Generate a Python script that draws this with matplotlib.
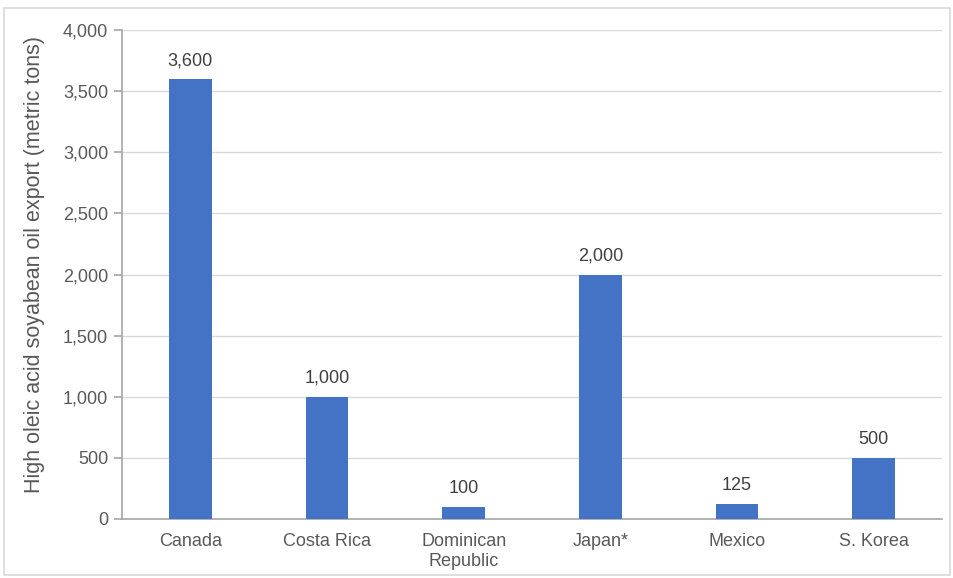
import matplotlib.pyplot as plt
from matplotlib.patches import Rectangle
from matplotlib.ticker import FuncFormatter

plt.rcParams['font.family'] = ['Liberation Sans', 'DejaVu Sans']

countries = ["Canada", "Costa Rica", "Dominican\nRepublic", "Japan*", "Mexico", "S. Korea"]
exports = [3600, 1000, 100, 2000, 125, 500]

bar_color = "#4472C4"
text_color = "#595959"
axis_color = "#A6A6A6"
grid_color = "#D9D9D9"

fig = plt.figure(figsize=(9.54, 5.78), dpi=100)
ax = fig.add_axes([0.1279, 0.1021, 0.8595, 0.8459])

x = range(len(countries))
bars = ax.bar(x, exports, width=0.31, color=bar_color, zorder=3)

for b, v in zip(bars, exports):
    ax.text(b.get_x() + b.get_width() / 2, v + 80, f"{v:,}",
            ha="center", va="bottom", fontsize=13, color="#404040")

ax.set_xlim(-0.5, len(countries) - 0.5)
ax.set_ylim(0, 4000)
ax.set_yticks(range(0, 4001, 500))
ax.yaxis.set_major_formatter(FuncFormatter(lambda v, p: f"{int(v):,}"))
ax.set_xticks(list(x))
ax.set_xticklabels(countries, linespacing=1.25)

ax.grid(axis="y", color=grid_color, linewidth=1, zorder=0)
for side in ["top", "right"]:
    ax.spines[side].set_visible(False)
for side in ["left", "bottom"]:
    ax.spines[side].set_color(axis_color)
    ax.spines[side].set_linewidth(1.2)

ax.tick_params(axis="y", colors=axis_color, labelcolor=text_color, labelsize=13,
               length=6, width=1.2, pad=4)
ax.tick_params(axis="x", length=0, labelcolor=text_color, labelsize=13, pad=10)

ax.set_ylabel("High oleic acid soyabean oil export (metric tons)", fontsize=15.5,
              color=text_color)
ax.yaxis.set_label_coords(-0.094, 0.52)

# thin frame round the whole chart
fig.patches.append(Rectangle((4 / 954, 3 / 578), 946 / 954, 567 / 578,
                             transform=fig.transFigure, fill=False,
                             edgecolor="#D9D9D9", linewidth=1.2))

fig.savefig("out.png", dpi=100)
